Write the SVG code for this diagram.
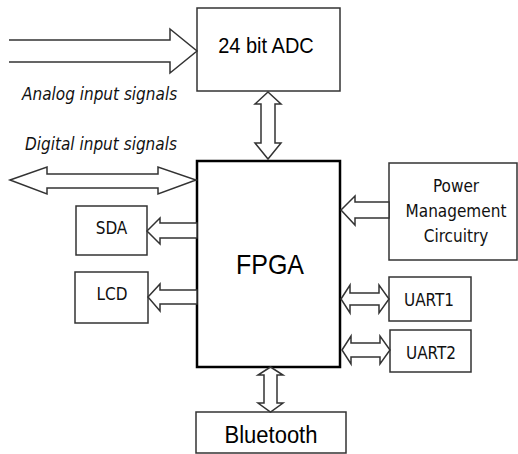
<svg xmlns="http://www.w3.org/2000/svg" width="518" height="454" viewBox="0 0 518 454">
<style>
.box{fill:#fff;stroke:#333;stroke-width:1.5}
.main{fill:#fff;stroke:#000;stroke-width:2.5}
.arr{fill:#fff;stroke:#333;stroke-width:1.5;stroke-linejoin:miter}
.ar{font-family:"Liberation Sans",Arial,sans-serif;fill:#000;text-anchor:middle}
.tx{font-family:"DejaVu Sans Condensed","DejaVu Sans",sans-serif;font-size:17px;fill:#111;text-anchor:middle}
.it{font-family:"DejaVu Sans Condensed","DejaVu Sans",sans-serif;font-size:17px;font-style:italic;fill:#111}
</style>
<rect width="518" height="454" fill="#fff"/>
<g id="adc"><rect class="box" x="197" y="8" width="143" height="83"/><text class="ar" font-size="20" transform="translate(266,53) scale(1,1.1)">24 bit ADC</text></g>
<g id="fpga"><rect class="main" x="197" y="161" width="143" height="206"/><text class="ar" font-size="25" transform="translate(270,274) scale(1,1.1)">FPGA</text></g>
<g id="power"><rect class="box" x="389" y="163" width="128" height="97"/><text class="tx" x="456" y="192">Power</text><text class="tx" x="456" y="217">Management</text><text class="tx" x="456" y="242">Circuitry</text></g>
<g id="sda"><rect class="box" x="76" y="206" width="71" height="49"/><text class="tx" x="111.5" y="234">SDA</text></g>
<g id="lcd"><rect class="box" x="75" y="272" width="73" height="51"/><text class="tx" x="112" y="300">LCD</text></g>
<g id="uart1"><rect class="box" x="389" y="277" width="82" height="44"/><text class="tx" x="429" y="306">UART1</text></g>
<g id="uart2"><rect class="box" x="390" y="330" width="81" height="42"/><text class="tx" x="431" y="359">UART2</text></g>
<g id="bluetooth"><rect class="box" x="196" y="412" width="150" height="41"/><text class="ar" font-size="22" transform="translate(271,443) scale(1,1.1)">Bluetooth</text></g>
<g id="labels"><text class="it" x="22" y="100">Analog input signals</text><text class="it" x="25" y="150">Digital input signals</text></g>
<g id="connectors">
<path class="arr" d="M9,40 H170 V29 L197,51 L170,73 V62 H9"/>
<polygon class="arr" points="10,180 47,167 47,174 158,174 158,167 196,180 158,194 158,188 47,188 47,194"/>
<polygon class="arr" points="268,92 281,104 275,104 275,143 281,143 268,159 255,143 261,143 261,104 255,104"/>
<polygon class="arr" points="341,210 355,196 355,202 389,202 389,218 355,218 355,225"/>
<polygon class="arr" points="147,231 160,218 160,223 197,223 197,238 160,238 160,244"/>
<polygon class="arr" points="148,297 160,284 160,290 197,290 197,304 160,304 160,311"/>
<polygon class="arr" points="341,299 350,285 350,293 379,293 379,285 389,299 379,313 379,305 350,305 350,313"/>
<polygon class="arr" points="342,350 351,336 351,343 380,343 380,336 390,350 380,364 380,357 351,357 351,364"/>
<polygon class="arr" points="270.5,367 283,375 277,375 277,403 283,403 270.5,412 258,403 264,403 264,375 258,375"/>
</g>
</svg>
